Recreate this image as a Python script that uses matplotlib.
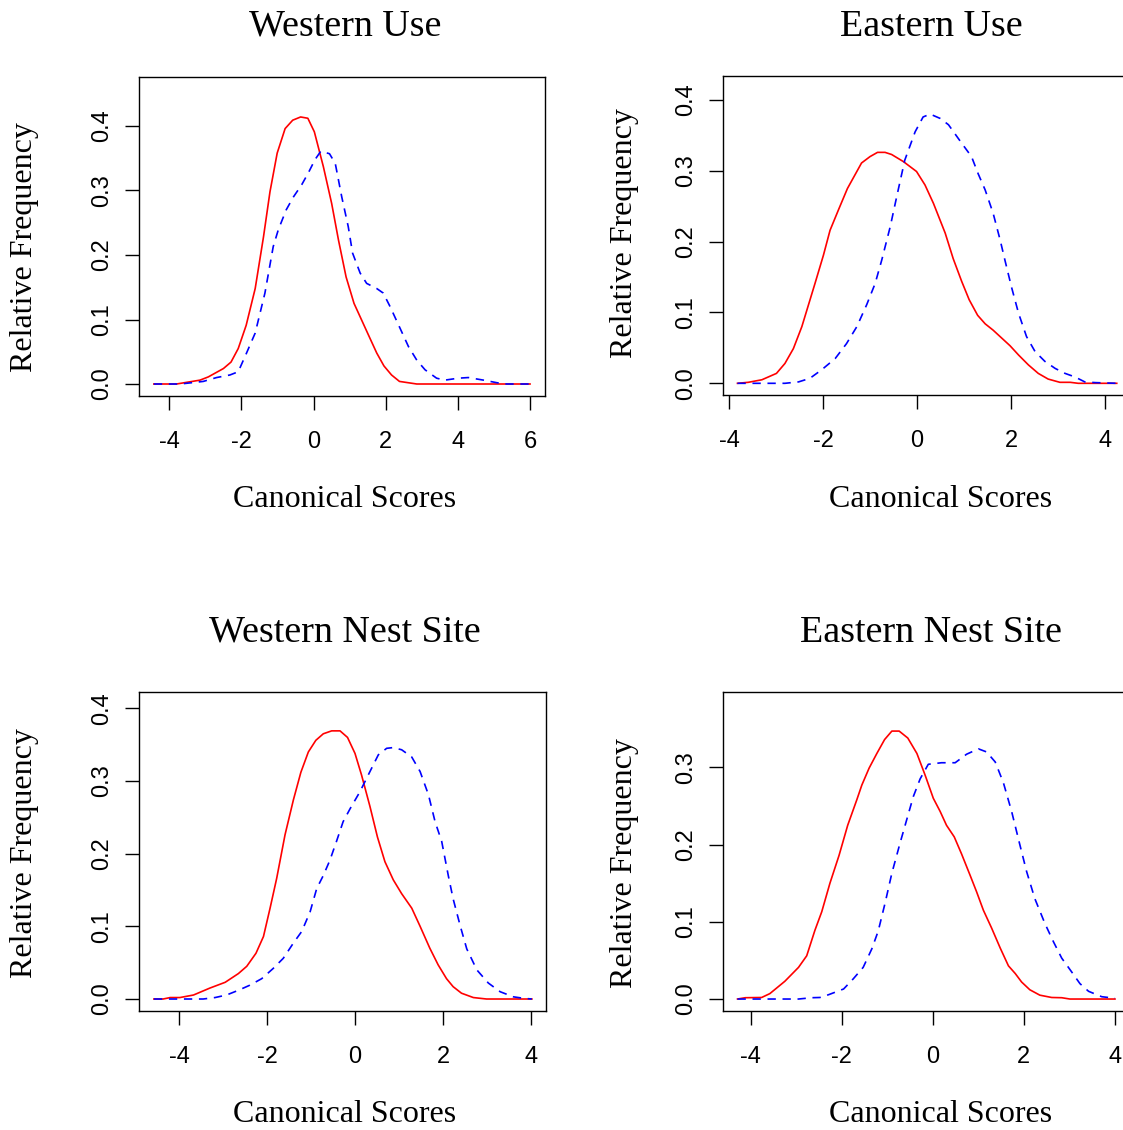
import matplotlib.pyplot as plt
import numpy as np

plt.rcParams['font.family'] = ['Liberation Serif', 'DejaVu Serif']

W, H = 1123, 1130

titles = ['Western Use', 'Eastern Use', 'Western Nest Site', 'Eastern Nest Site']

# Western Use
wu_red_x = [-4.43, -3.80, -3.15, -2.92, -2.50, -2.29, -2.09, -1.87, -1.62, -1.39, -1.21, -1.01, -0.79, -0.58,
            -0.36, -0.16, 0.02, 0.27, 0.50, 0.69, 0.90, 1.12, 1.52, 1.75, 1.95, 2.16, 2.38, 2.86, 6.0]
wu_red_y = [0, 0, 0.006, 0.011, 0.024, 0.034, 0.055, 0.091, 0.148, 0.228, 0.298, 0.358, 0.396, 0.409,
            0.414, 0.412, 0.391, 0.337, 0.280, 0.223, 0.166, 0.125, 0.076, 0.048, 0.028, 0.014, 0.004, 0, 0]
wu_blue_x = [-4.43, -3.70, -3.06, -2.69, -2.32, -2.09, -1.86, -1.62, -1.35, -1.12, -0.98, -0.76, -0.56, -0.33,
             -0.15, 0.04, 0.20, 0.44, 0.60, 0.78, 0.96, 1.08, 1.29, 1.47, 1.75, 1.93, 2.12, 2.40, 2.63, 2.86,
             3.09, 3.41, 3.64, 4.01, 4.29, 4.71, 5.08, 5.35, 6.0]
wu_blue_y = [0, 0, 0.004, 0.010, 0.014, 0.019, 0.048, 0.079, 0.141, 0.213, 0.239, 0.270, 0.290, 0.309,
             0.327, 0.348, 0.361, 0.357, 0.342, 0.290, 0.244, 0.203, 0.172, 0.156, 0.148, 0.141, 0.120, 0.086,
             0.058, 0.037, 0.022, 0.009, 0.006, 0.009, 0.010, 0.006, 0.002, 0, 0]

# Eastern Use
eu_red_x = [-3.82, -3.59, -3.30, -2.99, -2.81, -2.63, -2.45, -2.17, -1.99, -1.85, -1.67, -1.48, -1.18, -1.00,
            -0.84, -0.68, -0.54, -0.29, -0.01, 0.17, 0.35, 0.60, 0.77, 0.95, 1.11, 1.29, 1.45, 1.62, 1.80, 1.98,
            2.16, 2.37, 2.58, 2.79, 3.04, 3.26, 3.43, 4.25]
eu_red_y = [0, 0.0014, 0.005, 0.014, 0.028, 0.049, 0.080, 0.141, 0.181, 0.216, 0.245, 0.275, 0.311, 0.320,
            0.326, 0.326, 0.323, 0.313, 0.299, 0.280, 0.254, 0.212, 0.176, 0.144, 0.118, 0.096, 0.084, 0.075,
            0.064, 0.053, 0.040, 0.026, 0.014, 0.006, 0.0014, 0.0014, 0, 0]
eu_blue_x = [-3.82, -2.81, -2.52, -2.28, -2.03, -1.74, -1.50, -1.28, -1.07, -0.89, -0.75, -0.57, -0.43, -0.26,
             -0.04, 0.13, 0.28, 0.49, 0.67, 0.95, 1.16, 1.30, 1.45, 1.62, 1.77, 1.87, 2.01, 2.16, 2.33, 2.51,
             2.72, 2.94, 3.15, 3.36, 3.57, 3.79, 4.25]
eu_blue_y = [0, 0, 0.002, 0.007, 0.019, 0.035, 0.056, 0.080, 0.111, 0.141, 0.174, 0.221, 0.264, 0.315,
             0.355, 0.376, 0.380, 0.374, 0.365, 0.339, 0.320, 0.296, 0.273, 0.240, 0.202, 0.174, 0.136, 0.099,
             0.066, 0.045, 0.031, 0.021, 0.014, 0.009, 0.002, 0.001, 0]

# Western Nest Site
wn_red_x = [-4.57, -4.36, -4.20, -3.98, -3.67, -3.30, -2.95, -2.65, -2.46, -2.25, -2.08, -1.93, -1.78, -1.59,
            -1.40, -1.23, -1.06, -0.89, -0.72, -0.53, -0.34, -0.17, 0.00, 0.15, 0.34, 0.51, 0.68, 0.87, 1.06,
            1.29, 1.48, 1.70, 1.89, 2.08, 2.23, 2.42, 2.69, 2.99, 4.02]
wn_red_y = [0, 0, 0.002, 0.002, 0.0055, 0.015, 0.023, 0.035, 0.045, 0.063, 0.086, 0.125, 0.166, 0.226,
            0.274, 0.312, 0.340, 0.356, 0.365, 0.369, 0.369, 0.360, 0.338, 0.308, 0.265, 0.223, 0.189, 0.164,
            0.145, 0.125, 0.100, 0.070, 0.047, 0.028, 0.017, 0.008, 0.002, 0, 0]
wn_blue_x = [-4.57, -3.45, -3.18, -2.92, -2.65, -2.39, -2.12, -1.86, -1.63, -1.40, -1.21, -1.02, -0.87, -0.72,
             -0.57, -0.42, -0.27, -0.11, 0.11, 0.34, 0.53, 0.72, 0.87, 1.06, 1.29, 1.48, 1.67, 1.82, 1.97,
             2.12, 2.23, 2.39, 2.54, 2.77, 3.03, 3.30, 3.60, 3.83, 4.02]
wn_blue_y = [0, 0, 0.002, 0.0055, 0.012, 0.019, 0.028, 0.042, 0.056, 0.077, 0.093, 0.120, 0.152, 0.170,
             0.191, 0.217, 0.244, 0.262, 0.285, 0.313, 0.336, 0.345, 0.346, 0.343, 0.333, 0.313, 0.281, 0.244,
             0.217, 0.170, 0.138, 0.101, 0.069, 0.040, 0.022, 0.010, 0.003, 0.001, 0]

# Eastern Nest Site
en_red_x = [-4.29, -4.12, -3.76, -3.58, -3.25, -2.95, -2.77, -2.59, -2.44, -2.26, -2.06, -1.87, -1.67, -1.56,
            -1.40, -1.23, -1.06, -0.90, -0.74, -0.55, -0.35, -0.17, 0.01, 0.16, 0.30, 0.47, 0.63, 0.82, 0.96,
            1.11, 1.29, 1.48, 1.66, 1.81, 1.95, 2.13, 2.35, 2.61, 2.83, 3.01, 4.0]
en_red_y = [0, 0.0017, 0.002, 0.007, 0.023, 0.041, 0.056, 0.089, 0.113, 0.150, 0.186, 0.225, 0.258, 0.277,
            0.299, 0.318, 0.336, 0.347, 0.347, 0.338, 0.318, 0.290, 0.260, 0.243, 0.225, 0.210, 0.188, 0.160,
            0.139, 0.115, 0.092, 0.066, 0.043, 0.033, 0.022, 0.012, 0.005, 0.002, 0.0017, 0, 0]
en_blue_x = [-4.29, -2.95, -2.66, -2.48, -2.29, -1.96, -1.75, -1.53, -1.34, -1.20, -1.05, -0.90, -0.72, -0.57,
             -0.43, -0.28, -0.10, 0.19, 0.49, 0.74, 1.00, 1.18, 1.37, 1.55, 1.73, 1.91, 2.06, 2.24, 2.46, 2.65,
             2.83, 3.05, 3.23, 3.42, 3.71, 4.0]
en_blue_y = [0, 0, 0.0017, 0.002, 0.0056, 0.013, 0.026, 0.041, 0.065, 0.088, 0.124, 0.163, 0.202, 0.233,
             0.262, 0.285, 0.304, 0.306, 0.306, 0.317, 0.324, 0.320, 0.307, 0.280, 0.243, 0.200, 0.165, 0.130,
             0.098, 0.074, 0.053, 0.035, 0.020, 0.010, 0.003, 0.001]

red_x = [wu_red_x, eu_red_x, wn_red_x, en_red_x]
red_y = [wu_red_y, eu_red_y, wn_red_y, en_red_y]
blue_x = [wu_blue_x, eu_blue_x, wn_blue_x, en_blue_x]
blue_y = [wu_blue_y, eu_blue_y, wn_blue_y, en_blue_y]

xticks = [[-4, -2, 0, 2, 4, 6], [-4, -2, 0, 2, 4], [-4, -2, 0, 2, 4], [-4, -2, 0, 2, 4]]
yticks = [[0, 0.1, 0.2, 0.3, 0.4], [0, 0.1, 0.2, 0.3, 0.4], [0, 0.1, 0.2, 0.3, 0.4], [0, 0.1, 0.2, 0.3]]

# layout in pixels: left, right, top, bottom
boxes = [(139.3, 545, 77.3, 396), (723.3, 1129.5, 76, 395),
         (139.3, 546, 691.7, 1011), (723.3, 1130, 691.7, 1011)]
xlims = [(-4.833, 6.415), (-4.121, 4.521), (-4.902, 4.341), (-4.602, 4.33)]
ylims = [(-0.0186, 0.4755), (-0.0165, 0.4338), (-0.0165, 0.4229), (-0.0155, 0.398)]
title_pos = [(345, 36), (931, 36), (345, 642), (931, 642)]
xlab_pos = [(345, 507), (941, 507), (345, 1122), (941, 1122)]
ylab_pos = [(25, 247), (624, 233), (25, 853), (624, 863)]

fig = plt.figure(figsize=(W / 100, H / 100), dpi=100)

for i in range(4):
    l, r, t, b = boxes[i]
    ax = fig.add_axes([l / W, 1 - b / H, (r - l) / W, (b - t) / H])
    ax.plot(red_x[i], red_y[i], color='#ff0000', lw=1.2)
    ax.plot(blue_x[i], blue_y[i], color='#0000ff', lw=1.2, dashes=(5, 4))
    ax.set_xlim(*xlims[i])
    ax.set_ylim(*ylims[i])
    ax.set_xticks(xticks[i])
    ax.set_xticklabels([str(v) for v in xticks[i]])
    ax.set_yticks(yticks[i])
    ax.set_yticklabels(['%.1f' % v for v in yticks[i]])
    for s in ax.spines.values():
        s.set_linewidth(1.0)
    ax.tick_params(direction='out', length=10, width=1.0, labelsize=17)
    ax.tick_params(axis='x', pad=15)
    ax.tick_params(axis='y', pad=9, labelrotation=90)
    for lab in ax.get_xticklabels() + ax.get_yticklabels():
        lab.set_family(['Liberation Sans', 'DejaVu Sans'])
    for lab in ax.get_yticklabels():
        lab.set_verticalalignment('center')

    tx, ty = title_pos[i]
    fig.text(tx / W, 1 - ty / H, titles[i], fontsize=27.4, ha='center', va='baseline')
    lx, ly = xlab_pos[i]
    fig.text(lx / W, 1 - ly / H, 'Canonical Scores', fontsize=23, ha='center', va='baseline')
    yx, yy = ylab_pos[i]
    fig.text(yx / W, 1 - yy / H, 'Relative Frequency', fontsize=23, ha='center', va='center',
             rotation=90)

fig.savefig('out.png', dpi=100)
